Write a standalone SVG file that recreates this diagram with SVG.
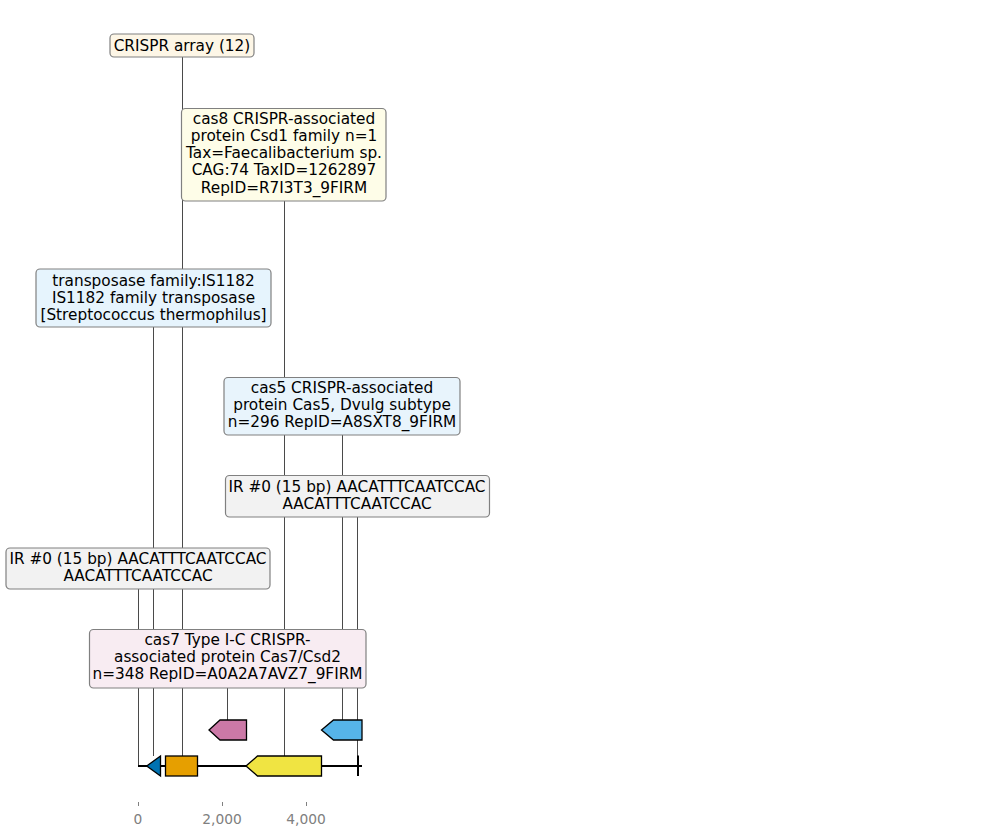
<svg xmlns="http://www.w3.org/2000/svg" width="989" height="836" viewBox="0 0 989 836">
<style>
text{font-family:"DejaVu Sans","Liberation Sans",sans-serif;font-size:15.3px;fill:#000;text-anchor:middle}
.box{stroke:#808080;stroke-width:1.2}
.conn line{stroke:#4a4a4a;stroke-width:1}
.gene{stroke:#000;stroke-width:1.3}
.ax{fill:#808080;font-size:13.8px}
</style>
<rect width="989" height="836" fill="#fff"/>
<g id="connectors" class="conn">
<line x1="182.5" y1="57" x2="182.5" y2="756"/>
<line x1="284.5" y1="201" x2="284.5" y2="756"/>
<line x1="153.5" y1="327" x2="153.5" y2="756"/>
<line x1="342.5" y1="435" x2="342.5" y2="720"/>
<line x1="357.5" y1="517" x2="357.5" y2="766"/>
<line x1="138.5" y1="589" x2="138.5" y2="766"/>
<line x1="227.5" y1="688" x2="227.5" y2="720"/>
</g>
<g id="label-crispr">
<rect class="box" x="110" y="34" width="144" height="23" rx="4" fill="#FDF6E6"/>
<text x="182" y="50.5">CRISPR array (12)</text>
</g>
<g id="label-cas8">
<rect class="box" x="181.5" y="108.5" width="204.5" height="92.5" rx="4" fill="#FEFDE8"/>
<text x="284" y="123.5">cas8 CRISPR-associated</text>
<text x="284" y="140.7">protein Csd1 family n=1</text>
<text x="284" y="158">Tax=Faecalibacterium sp.</text>
<text x="284" y="175.2">CAG:74 TaxID=1262897</text>
<text x="284" y="192.5">RepID=R7I3T3_9FIRM</text>
</g>
<g id="label-transposase">
<rect class="box" x="36" y="269" width="235" height="58" rx="4" fill="#E6F4FD"/>
<text x="153.5" y="285.5">transposase family:IS1182</text>
<text x="153.5" y="302.7">IS1182 family transposase</text>
<text x="153.5" y="320">[Streptococcus thermophilus]</text>
</g>
<g id="label-cas5">
<rect class="box" x="224" y="377.5" width="236" height="57.5" rx="4" fill="#E8F4FC"/>
<text x="342" y="392.5">cas5 CRISPR-associated</text>
<text x="342" y="409.8">protein Cas5, Dvulg subtype</text>
<text x="342" y="427">n=296 RepID=A8SXT8_9FIRM</text>
</g>
<g id="label-ir-right">
<rect class="box" x="225.5" y="475.5" width="264" height="41.5" rx="4" fill="#F2F2F2"/>
<text x="357" y="492">IR #0 (15 bp) AACATTTCAATCCAC</text>
<text x="357" y="509.2">AACATTTCAATCCAC</text>
</g>
<g id="label-ir-left">
<rect class="box" x="6" y="548" width="264" height="41" rx="4" fill="#F2F2F2"/>
<text x="138" y="564">IR #0 (15 bp) AACATTTCAATCCAC</text>
<text x="138" y="581.2">AACATTTCAATCCAC</text>
</g>
<g id="label-cas7">
<rect class="box" x="89.5" y="629.5" width="276.5" height="58.5" rx="4" fill="#F8ECF2"/>
<text x="227.5" y="644.5">cas7 Type I-C CRISPR-</text>
<text x="227.5" y="661.8">associated protein Cas7/Csd2</text>
<text x="227.5" y="679">n=348 RepID=A0A2A7AVZ7_9FIRM</text>
</g>
<g id="sequence">
<line x1="138" y1="766" x2="362" y2="766" stroke="#000" stroke-width="2"/>
<line x1="358" y1="755.5" x2="358" y2="776" stroke="#000" stroke-width="2"/>
</g>
<g id="gene-transposase"><polygon class="gene" points="146.7,766 160.5,756 160.5,776" fill="#0072B2"/></g>
<g id="gene-crispr"><rect class="gene" x="165.5" y="756" width="32" height="20" fill="#E69F00"/></g>
<g id="gene-cas8"><polygon class="gene" points="246,766 257.5,756 321.5,756 321.5,776 257.5,776" fill="#F0E442"/></g>
<g id="gene-cas7"><polygon class="gene" points="209,730 220,720 246.5,720 246.5,740 220,740" fill="#CC79A7"/></g>
<g id="gene-cas5"><polygon class="gene" points="321.5,730 333.5,720 362,720 362,740 333.5,740" fill="#56B4E9"/></g>
<g id="axis" stroke="#808080" stroke-width="1">
<line x1="138.5" y1="802" x2="138.5" y2="806"/>
<line x1="222.5" y1="802" x2="222.5" y2="806"/>
<line x1="306.5" y1="802" x2="306.5" y2="806"/>
</g>
<text class="ax" x="138" y="823.5">0</text>
<text class="ax" x="222" y="823.5">2,000</text>
<text class="ax" x="306" y="823.5">4,000</text>
</svg>
